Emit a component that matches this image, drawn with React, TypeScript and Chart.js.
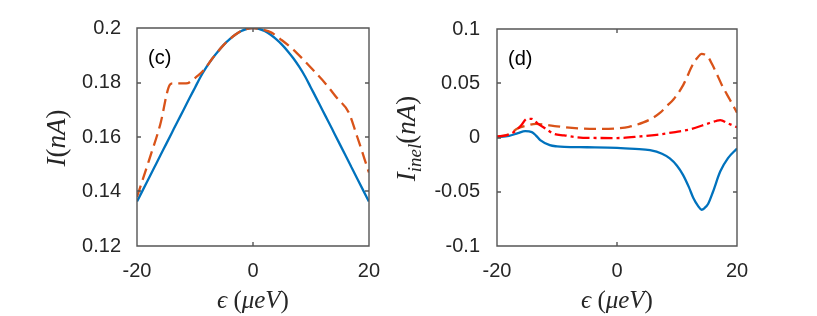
import React, { useEffect, useRef } from "react";
import { Chart, registerables } from "chart.js";

Chart.register(...registerables);

// ---------------- data ----------------
const epsTicks = [-20, 0, 20];
const currentTicks = [0.12, 0.14, 0.16, 0.18, 0.2];
const inelTicks = [-0.1, -0.05, 0, 0.05, 0.1];

// panel (c): total current
const epsBlueC = [-20, -19, -18, -17, -16, -15, -14, -13, -12, -11, -10, -9, -8, -7, -6, -5, -4, -3, -2, -1, 0,
  1, 2, 3, 4, 5, 6, 7, 8, 9, 10, 11, 12, 13, 14, 15, 16, 17, 18, 19, 20];
const curBlueC = [0.1363, 0.1405, 0.1447, 0.1489, 0.1531, 0.1573, 0.1615, 0.1657, 0.1698, 0.1740, 0.1781, 0.1822, 0.1857, 0.1888, 0.1915, 0.1939, 0.1959, 0.1976, 0.1989, 0.1997, 0.2000,
  0.1997, 0.1989, 0.1976, 0.1959, 0.1939, 0.1915, 0.1888, 0.1857, 0.1822, 0.1781, 0.1740, 0.1698, 0.1657, 0.1615, 0.1573, 0.1531, 0.1489, 0.1447, 0.1405, 0.1363];

const epsOrangeC = [-20, -18, -16, -14.3, -13.8, -12, -11.2, -10.5, -9.5, -8.5, -7, -5, -3, -1.5, 0, 1.5, 3.2, 5, 7, 8.7, 10.5, 12.6, 14.5, 16.5, 18, 20];
const curOrangeC = [0.138, 0.151, 0.1645, 0.1793, 0.1797, 0.1797, 0.1798, 0.1808, 0.1825, 0.1845, 0.1888, 0.1939, 0.1976, 0.1994, 0.2, 0.1995, 0.1983, 0.1955, 0.192, 0.1884, 0.1843, 0.1794, 0.1743, 0.1691, 0.16, 0.147];

// panel (d): inelastic current
const epsBlueD = [-20, -18, -16.5, -15.3, -14.2, -13.5, -12.8, -11.2, -10, -8.8, -5, 0, 3, 5.5, 7.5, 8.8, 10, 11, 12, 12.7, 13.5, 14.1, 14.6, 15.2, 16, 17.2, 18.5, 20];
const inelBlueD = [0.0003, 0.0015, 0.004, 0.0058, 0.005, 0.0018, -0.0024, -0.007, -0.0082, -0.0087, -0.009, -0.0095, -0.0105, -0.0117, -0.015, -0.0193, -0.026, -0.0344, -0.046, -0.0555, -0.063, -0.0666, -0.065, -0.061, -0.05, -0.0314, -0.019, -0.0102];

const epsOrangeD = [-20, -18, -16.5, -15, -13.5, -12, -10, -7.5, -5.6, -3, 0, 2, 4.4, 5.8, 7.2, 8.3, 9.4, 11.05, 12.7, 13.4, 14.1, 14.6, 15.2, 15.9, 16.6, 17.6, 18.8, 20];
const inelOrangeD = [0.0005, 0.003, 0.0085, 0.011, 0.0126, 0.0118, 0.0103, 0.0088, 0.0082, 0.008, 0.0084, 0.0098, 0.0139, 0.0175, 0.0229, 0.029, 0.035, 0.0485, 0.068, 0.0735, 0.0771, 0.0765, 0.074, 0.067, 0.059, 0.047, 0.035, 0.0229];

const epsRedD = [-20, -18.5, -17.2, -16, -15, -14.2, -13.3, -12, -10.5, -8.8, -6.7, -4.5, 0, 3.9, 6.6, 9.4, 12.2, 14.9, 16.6, 17.2, 18.5, 20];
const inelRedD = [0.001, 0.002, 0.005, 0.011, 0.0172, 0.0172, 0.0133, 0.0085, 0.0033, 0.002, 0.0002, -0.0004, -0.0005, 0.001, 0.0025, 0.0048, 0.0075, 0.0124, 0.0154, 0.016, 0.013, 0.0094];

type Piece = [string, "i" | "r" | "s"];
const xTitle: Piece[] = [["\u03f5", "i"], [" ", "r"], ["(", "r"], ["\u03bceV", "i"], [")", "r"]];
const yTitleC: Piece[] = [["I", "i"], ["(", "r"], ["nA", "i"], [")", "r"]];
const yTitleD: Piece[] = [["I", "i"], ["inel", "s"], ["(", "r"], ["nA", "i"], [")", "r"]];

// ---------------- styling ----------------
const BLUE = "#0072BD";
const ORANGE = "#D95319";
const RED = "#FF0000";
const TEXT = "#262626";
const FRAME = "#555555";
const SANS = '"Liberation Sans", Arial, Helvetica, sans-serif';
const SERIF = '"Liberation Serif", "DejaVu Serif", serif';

function fontFor(style: string, size: number) {
  if (style === "r") return `${size}px ${SERIF}`;
  if (style === "s") return `italic ${Math.round(size * 0.7)}px ${SERIF}`;
  return `italic ${size}px ${SERIF}`;
}

function drawPieces(ctx: CanvasRenderingContext2D, pieces: Piece[], size: number) {
  let total = 0;
  const widths = pieces.map(([t, s]) => {
    ctx.font = fontFor(s, size);
    const w = ctx.measureText(t).width;
    total += w;
    return w;
  });
  let x = -total / 2;
  ctx.textAlign = "left";
  ctx.textBaseline = "alphabetic";
  pieces.forEach(([t, s], i) => {
    ctx.font = fontFor(s, size);
    ctx.fillText(t, x, s === "s" ? size * 0.22 : 0);
    x += widths[i];
  });
}

const framePlugin = {
  id: "frame",
  afterDraw(chart: any, _args: any, opts: any) {
    const ctx: CanvasRenderingContext2D = chart.ctx;
    const area = chart.chartArea;
    const left = Math.round(area.left);
    const right = Math.round(area.right);
    const top = Math.round(area.top);
    const bottom = Math.round(area.bottom);
    const xs = chart.scales.x;
    const ys = chart.scales.y;
    ctx.save();
    ctx.setLineDash([]);
    ctx.globalAlpha = 1;
    ctx.lineWidth = 1.4;
    ctx.strokeStyle = FRAME;
    ctx.lineCap = "butt";
    ctx.beginPath();
    ctx.rect(left, top, right - left, bottom - top);
    const L = 4;
    xs.ticks.forEach((t: any) => {
      const px = Math.round(xs.getPixelForValue(t.value));
      ctx.moveTo(px, bottom);
      ctx.lineTo(px, bottom - L);
      ctx.moveTo(px, top);
      ctx.lineTo(px, top + L);
    });
    ys.ticks.forEach((t: any) => {
      const py = Math.round(ys.getPixelForValue(t.value));
      ctx.moveTo(left, py);
      ctx.lineTo(left + L, py);
      ctx.moveTo(right, py);
      ctx.lineTo(right - L, py);
    });
    ctx.stroke();

    // panel label
    ctx.fillStyle = "#000";
    ctx.font = `20px ${SANS}`;
    ctx.textAlign = "left";
    ctx.textBaseline = "alphabetic";
    ctx.fillText(opts.label, left + 11, top + 36);

    // x title
    ctx.fillStyle = TEXT;
    ctx.save();
    ctx.translate((left + right) / 2, 308);
    drawPieces(ctx, xTitle, 25);
    ctx.restore();

    // y title (rotated)
    ctx.save();
    ctx.translate(left - opts.yTitleGap, (top + bottom) / 2 + 1);
    ctx.rotate(-Math.PI / 2);
    drawPieces(ctx, opts.yTitle, 27);
    ctx.restore();
    ctx.restore();
  },
};

function fmt(v: number) {
  return String(parseFloat(Number(v).toFixed(4)));
}

function series(xs: number[], ys: number[], color: string, dash: number[], order: number) {
  return {
    data: xs.map((x, i) => ({ x, y: ys[i] })),
    borderColor: color,
    backgroundColor: color,
    borderWidth: 2.3,
    borderDash: dash,
    pointRadius: 0,
    fill: false,
    cubicInterpolationMode: "monotone" as const,
    order,
  };
}

function makeConfig(p: {
  datasets: any[];
  yTicks: number[];
  yMin: number;
  yMax: number;
  yAxisWidth: number;
  padRight: number;
  yPad: number;
  label: string;
  yTitle: Piece[];
  yTitleGap: number;
}): any {
  const tickFont = { family: SANS, size: 20 };
  return {
    type: "line",
    data: { datasets: p.datasets },
    plugins: [framePlugin],
    options: {
      responsive: false,
      animation: false,
      events: [],
      layout: { padding: { top: 25, right: p.padRight, left: 0, bottom: 0 } },
      plugins: {
        legend: { display: false },
        tooltip: { enabled: false },
        frame: { label: p.label, yTitle: p.yTitle, yTitleGap: p.yTitleGap },
      },
      scales: {
        x: {
          type: "linear",
          min: -20,
          max: 20,
          afterBuildTicks: (s: any) => {
            s.ticks = epsTicks.map((v) => ({ value: v }));
          },
          afterFit: (s: any) => {
            s.height = 70;
          },
          grid: { display: false, drawTicks: false },
          border: { display: false },
          ticks: { padding: 13, font: tickFont, color: TEXT, maxRotation: 0, callback: (v: number) => fmt(v) },
        },
        y: {
          type: "linear",
          min: p.yMin,
          max: p.yMax,
          afterBuildTicks: (s: any) => {
            s.ticks = p.yTicks.map((v) => ({ value: v }));
          },
          afterFit: (s: any) => {
            s.width = p.yAxisWidth;
          },
          grid: { display: false, drawTicks: false },
          border: { display: false },
          ticks: { padding: p.yPad, font: tickFont, color: TEXT, callback: (v: number) => fmt(v) },
        },
      },
    },
  };
}

export default function App() {
  const r1 = useRef<HTMLCanvasElement>(null);
  const r2 = useRef<HTMLCanvasElement>(null);

  useEffect(() => {
    const c1 = new Chart(
      r1.current as HTMLCanvasElement,
      makeConfig({
        datasets: [
          series(epsBlueC, curBlueC, BLUE, [], 3),
          series(epsOrangeC, curOrangeC, ORANGE, [12, 6], 2),
        ],
        yTicks: currentTicks,
        yMin: 0.12,
        yMax: 0.2,
        yAxisWidth: 137,
        padRight: 14,
        yPad: 16,
        label: "(c)",
        yTitle: yTitleC,
        yTitleGap: 72,
      })
    );
    const c2 = new Chart(
      r2.current as HTMLCanvasElement,
      makeConfig({
        datasets: [
          series(epsBlueD, inelBlueD, BLUE, [], 3),
          series(epsOrangeD, inelOrangeD, ORANGE, [12, 6], 2),
          series(epsRedD, inelRedD, RED, [12, 4, 3, 4], 1),
        ],
        yTicks: inelTicks,
        yMin: -0.1,
        yMax: 0.1,
        yAxisWidth: 104,
        padRight: 80,
        yPad: 17,
        label: "(d)",
        yTitle: yTitleD,
        yTitleGap: 82,
      })
    );
    return () => {
      c1.destroy();
      c2.destroy();
    };
  }, []);

  return (
    <div style={{ position: "absolute", left: 0, top: 0, width: 817, height: 316, background: "#fff" }}>
      <canvas ref={r1} width={393} height={316} style={{ position: "absolute", left: 0, top: 0 }} />
      <canvas ref={r2} width={424} height={316} style={{ position: "absolute", left: 393, top: 0 }} />
    </div>
  );
}
